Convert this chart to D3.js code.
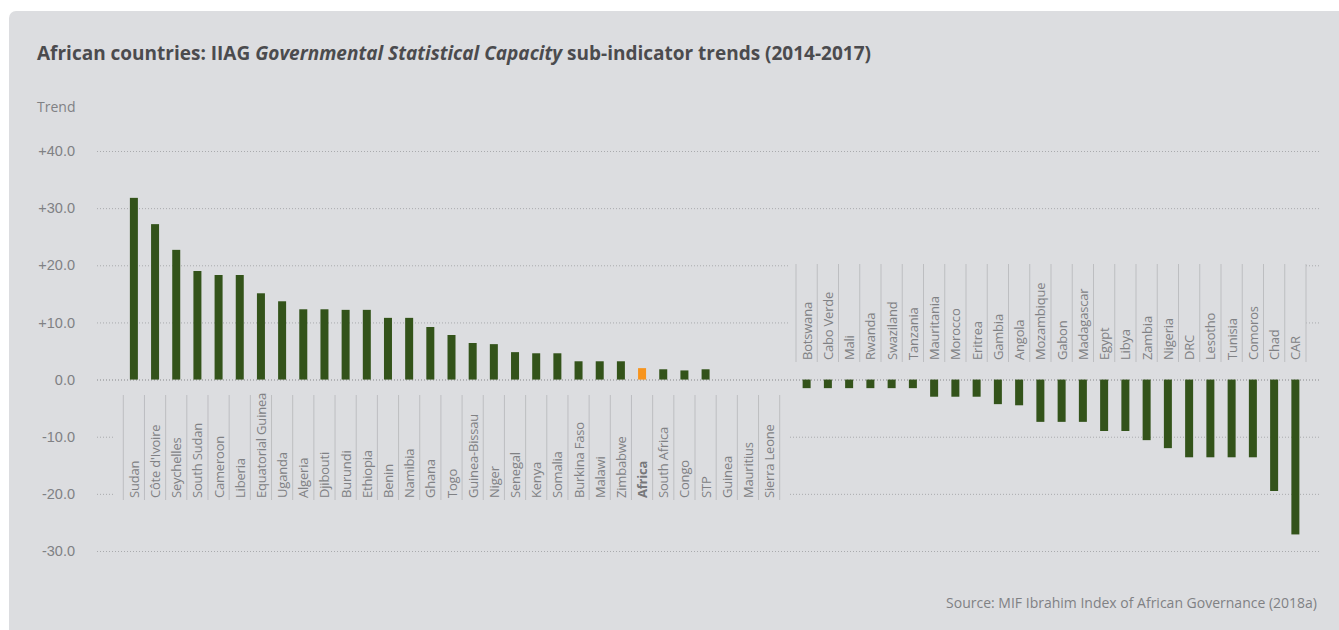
<html>
<head>
<meta charset="utf-8">
<title>IIAG Governmental Statistical Capacity trends</title>
<script src="https://cdn.jsdelivr.net/npm/d3@7"></script>
<style>
    body { margin: 0; background: #fff; }
    svg { display: block; font-family: "Open Sans", "Noto Sans", sans-serif; }
    .grid line { stroke: #a9aaad; stroke-width: 1px; stroke-dasharray: 1,2; }
    .grid text { fill: #808184; font-size: 14.5px; }
    .lbl { fill: #808184; font-size: 14px; }
    text.cat { font-size: 13px; letter-spacing: -0.2px; }
</style>
</head>
<body>
<svg id="chart"></svg>
<script>
const WIDTH = 1339
const HEIGHT = 630

// countries that improved (or stayed flat), in chart order
const upCountries = ["Sudan", "Côte d'Ivoire", "Seychelles", "South Sudan", "Cameroon", "Liberia",
    "Equatorial Guinea", "Uganda", "Algeria", "Djibouti", "Burundi", "Ethiopia", "Benin", "Namibia",
    "Ghana", "Togo", "Guinea-Bissau", "Niger", "Senegal", "Kenya", "Somalia", "Burkina Faso",
    "Malawi", "Zimbabwe", "Africa", "South Africa", "Congo", "STP", "Guinea", "Mauritius", "Sierra Leone"]
const upTrend = [31.8, 27.2, 22.7, 19.0, 18.3, 18.3, 15.1, 13.7, 12.3, 12.3, 12.2, 12.2, 10.8, 10.8,
    9.2, 7.8, 6.4, 6.2, 4.8, 4.6, 4.6, 3.2, 3.2, 3.2, 2.0, 1.8, 1.6, 1.8, 0, 0, 0]

// countries that declined
const downCountries = ["Botswana", "Cabo Verde", "Mali", "Rwanda", "Swaziland", "Tanzania",
    "Mauritania", "Morocco", "Eritrea", "Gambia", "Angola", "Mozambique", "Gabon", "Madagascar",
    "Egypt", "Libya", "Zambia", "Nigeria", "DRC", "Lesotho", "Tunisia", "Comoros", "Chad", "CAR"]
const downTrend = [-1.5, -1.5, -1.5, -1.5, -1.5, -1.5, -3.0, -3.0, -3.0, -4.3, -4.5, -7.4, -7.4, -7.4,
    -9.0, -9.0, -10.6, -12.0, -13.6, -13.6, -13.6, -13.6, -19.5, -27.1]

const yTicks = [-30, -20, -10, 0, 10, 20, 30, 40]

const GREEN = "#33531a"
const ORANGE = "#f7941d"

let svg = d3.select("#chart").attr("width", WIDTH).attr("height", HEIGHT)

// card background
svg.append("rect")
    .attr("x", 9).attr("y", 11)
    .attr("width", WIDTH).attr("height", HEIGHT)
    .attr("rx", 7)
    .attr("fill", "#dcdde0")

// title
let title = svg.append("text")
    .attr("x", 37).attr("y", 60)
    .attr("fill", "#4b4b4e")
    .attr("font-size", 19)
    .attr("font-weight", "bold")
title.append("tspan").text("African countries: IIAG ")
title.append("tspan").attr("font-style", "italic").text("Governmental Statistical Capacity")
title.append("tspan").text(" sub-indicator trends (2014-2017)")

svg.append("text")
    .attr("class", "lbl")
    .attr("x", 37).attr("y", 112)
    .text("Trend")

let y = d3.scaleLinear().domain([-30, 40]).range([551, 151])

const GRID_LEFT = 97
const GRID_RIGHT = 1320

let grid = svg.append("g")
    .attr("class", "grid")
    .attr("transform", `translate(${GRID_LEFT},0)`)
    .call(d3.axisLeft(y)
        .tickValues(yTicks)
        .tickSize(-(GRID_RIGHT - GRID_LEFT))
        .tickPadding(22)
        .tickFormat(d => (d > 0 ? "+" : "") + d.toFixed(1)))
grid.select(".domain").remove()
grid.selectAll(".tick line")
    .filter(d => d === 0)
    .style("stroke", "#a3a4a7")
    .style("stroke-width", "1.5px")
    .style("stroke-dasharray", null)

let xUp = d3.scaleBand().domain(upCountries).range([123.3, 779.7])
let xDown = d3.scaleBand().domain(downCountries).range([796, 1306])

// panels behind the category labels (they hide the grid)
svg.append("rect")
    .attr("x", 115).attr("y", 390).attr("width", 673).attr("height", 115)
    .attr("fill", "#dcdde0")
svg.append("rect")
    .attr("x", 789).attr("y", 258).attr("width", 517).attr("height", 108)
    .attr("fill", "#dcdde0")

const BAR_W = 8

function drawGroup(names, values, x, sepTop, sepBottom, labelBase) {
    let g = svg.append("g")
    let data = names.map((n, i) => ({name: n, value: values[i]}))

    // separators
    g.selectAll("line.sep")
        .data(names.map(n => x(n)).concat([x.range()[1]]))
        .enter()
        .append("line")
            .attr("x1", d => d).attr("x2", d => d)
            .attr("y1", sepTop).attr("y2", sepBottom)
            .attr("stroke", "#bdbec1")
            .attr("stroke-width", 1)

    g.selectAll("rect.bar")
        .data(data.filter(d => d.value !== 0))
        .enter()
        .append("rect")
            .attr("x", d => x(d.name) + x.bandwidth() / 2 - BAR_W / 2)
            .attr("width", BAR_W)
            .attr("y", d => Math.min(y(d.value), y(0)))
            .attr("height", d => Math.abs(y(d.value) - y(0)))
            .attr("fill", d => d.name === "Africa" ? ORANGE : GREEN)

    g.selectAll("text.cat")
        .data(data)
        .enter()
        .append("text")
            .attr("class", "lbl cat")
            .attr("transform", d => `translate(${x(d.name) + x.bandwidth() / 2 + 5},${labelBase}) rotate(-90)`)
            .attr("font-weight", d => d.name === "Africa" ? "bold" : null)
            .style("fill", d => d.name === "Africa" ? "#76777a" : null)
            .text(d => d.name)
}

drawGroup(upCountries, upTrend, xUp, 395, 500, 498)
drawGroup(downCountries, downTrend, xDown, 264, 362, 360)

svg.append("text")
    .attr("class", "lbl")
    .attr("x", 1317).attr("y", 608)
    .attr("text-anchor", "end")
    .text("Source: MIF Ibrahim Index of African Governance (2018a)")
</script>
</body>
</html>
